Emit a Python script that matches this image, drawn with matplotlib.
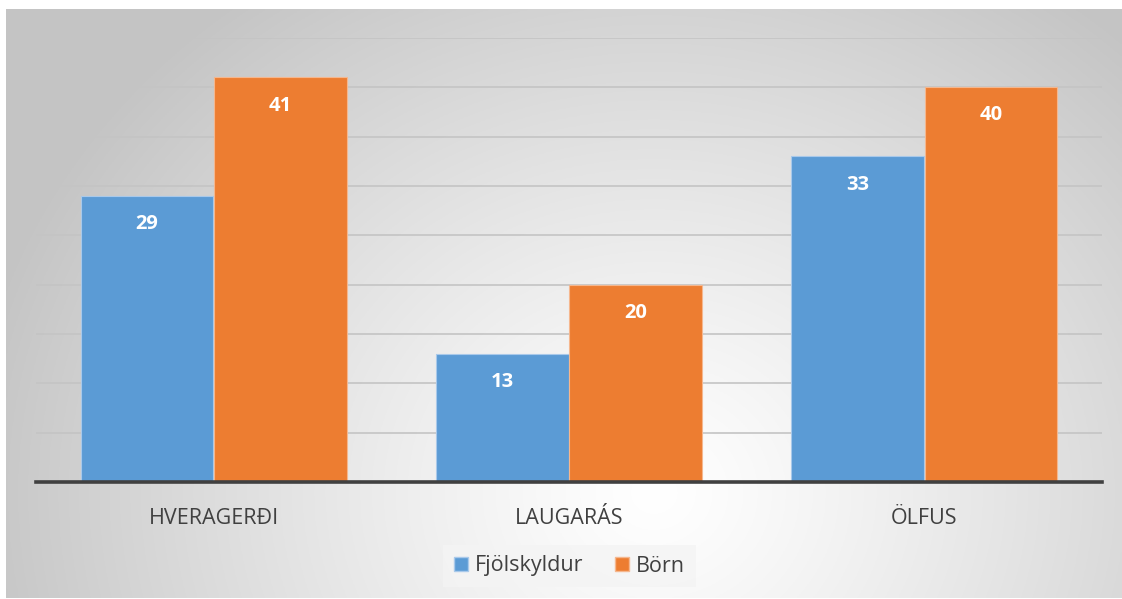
import numpy as np
import matplotlib
matplotlib.use("Agg")
import matplotlib.pyplot as plt
from matplotlib.patches import Patch

plt.rcParams["font.family"] = ["Open Sans", "DejaVu Sans"]

categories = ["HVERAGERÐI", "LAUGARÁS", "ÖLFUS"]
fjolskyldur = [29, 13, 33]
born = [41, 20, 40]
series_names = ["Fjölskyldur", "Börn"]

C_BLUE = "#5B9BD5"
C_ORANGE = "#ED7D31"
INK = "#404040"

W, H = 1122, 599
fig = plt.figure(figsize=(W / 100, H / 100), dpi=100)

# radial gradient background of the chart area
bg = fig.add_axes([6 / W, 1 - 598 / H, 1 - 6 / W, (598 - 9) / H], zorder=0)
bg.axis("off")
ny, nx = 300, 560
yy, xx = np.mgrid[0:ny, 0:nx]
cx, cy = 0.58 * nx, 0.82 * ny
d = np.sqrt(((xx - cx) / (0.62 * nx)) ** 2 + ((yy - cy) / (1.05 * ny)) ** 2)
d = np.clip(d, 0, 1)
v = 1.0 - 0.23 * d ** 1.2
bg.imshow(np.dstack([v, v, v]), aspect="auto", extent=[0, 1, 0, 1], origin="upper")
bg.set_xlim(0, 1); bg.set_ylim(0, 1)

ax = fig.add_axes([36 / W, 1 - 482 / H, (1102 - 36) / W, (482 - 38) / H], zorder=1)
ax.patch.set_alpha(0)

x = np.arange(len(categories))
bw = 0.373
b1 = ax.bar(x - 0.1875, fjolskyldur, bw, color=C_BLUE, edgecolor="#a9c9ea", lw=0.8, zorder=3)
b2 = ax.bar(x + 0.1875, born, bw, color=C_ORANGE, edgecolor="#f5b78e", lw=0.8, zorder=3)

for bars, vals in ((b1, fjolskyldur), (b2, born)):
    for r, v_ in zip(bars, vals):
        ax.text(r.get_x() + r.get_width() / 2, v_ - 2.85, str(v_), ha="center", va="center",
                color="white", fontsize=14.5, fontweight="bold", zorder=4)

ax.set_xlim(-0.5, 2.5)
ax.set_ylim(0, 45)
ax.set_yticks(np.arange(0, 46, 5))
ax.yaxis.grid(True, color="#c4c4c4", lw=1.2, zorder=0)
ax.tick_params(axis="y", left=False, labelleft=False)
ax.tick_params(axis="x", bottom=False, pad=15, labelsize=15.5, labelcolor=INK)
ax.set_xticks(x)
ax.set_xticklabels(categories)
for s in ("top", "right", "left"):
    ax.spines[s].set_visible(False)
ax.spines["bottom"].set_color("#404040")
ax.spines["bottom"].set_linewidth(2.6)
ax.spines["bottom"].set_zorder(5)

handles = [Patch(facecolor=C_BLUE, edgecolor="#a9c9ea"), Patch(facecolor=C_ORANGE, edgecolor="#f5b78e")]
leg = fig.legend(handles, series_names, loc="center", bbox_to_anchor=(569.5 / W, 1 - 566 / H),
                 ncol=2, fontsize=15.5, frameon=True, fancybox=False, handlelength=0.65,
                 handleheight=0.65, handletextpad=0.3, columnspacing=1.5, borderpad=0.5)
leg.get_frame().set_facecolor("#f4f4f4")
leg.get_frame().set_edgecolor("none")
leg.get_frame().set_alpha(0.8)
for t in leg.get_texts():
    t.set_color(INK)

fig.savefig("out.png", dpi=100)
